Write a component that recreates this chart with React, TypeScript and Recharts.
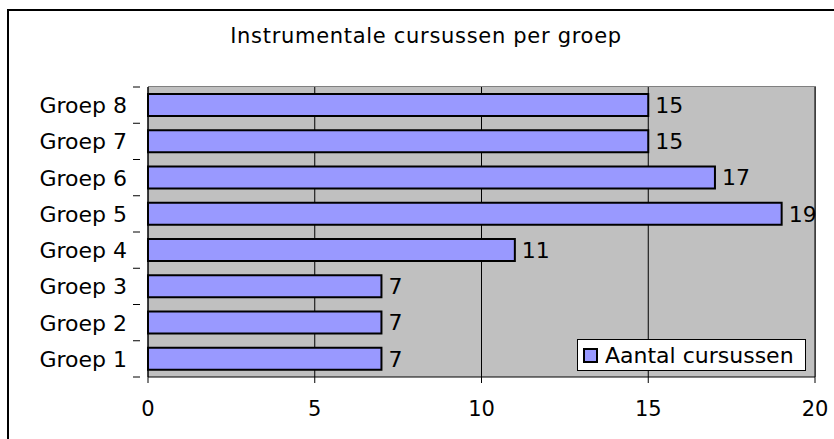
import { Bar, BarChart, CartesianGrid, LabelList, XAxis, YAxis } from 'recharts';

const groups = ['Groep 1', 'Groep 2', 'Groep 3', 'Groep 4', 'Groep 5', 'Groep 6', 'Groep 7', 'Groep 8'];
const courses = [7, 7, 7, 11, 19, 17, 15, 15];
const xTicks = [0, 5, 10, 15, 20];
const seriesName = 'Aantal cursussen';

const data = groups.map((g, i) => ({ group: g, value: courses[i] }));

const FONT = '"DejaVu Sans", Verdana, sans-serif';
const PLOT_TOP = 87;
const PLOT_H = 290;
const X_AXIS_H = 30;
const BAND = PLOT_H / groups.length;

// ticks sit on the band boundaries like the original, not in the middle
function GroupTick(props: any) {
  const { x, y, payload, index } = props;
  return (
    <g>
      <line x1={x - 7} x2={x} y1={y - BAND / 2} y2={y - BAND / 2} stroke="#000" />
      {index === 0 && <line x1={x - 7} x2={x} y1={y + BAND / 2} y2={y + BAND / 2} stroke="#000" />}
      <text x={x - 13} y={y} dy={8} textAnchor="end" fontSize={22} fill="#000" fontFamily={FONT}>
        {payload.value}
      </text>
    </g>
  );
}

export default function App() {
  return (
    <div style={{ position: 'relative', width: 834, height: 439, background: '#fff', overflow: 'hidden' }}>
      <style>{'body{margin:0}'}</style>
      <div
        style={{
          position: 'absolute',
          left: 7,
          top: 9,
          width: 840,
          height: 440,
          border: '2px solid #000',
          boxSizing: 'border-box',
        }}
      />
      <div
        style={{
          position: 'absolute',
          left: 0,
          width: 852,
          top: 24,
          textAlign: 'center',
          fontFamily: FONT,
          fontSize: 21,
          letterSpacing: 0.7,
          color: '#000',
        }}
      >
        Instrumentale cursussen per groep
      </div>
      <div
        style={{
          position: 'absolute',
          left: 148,
          top: PLOT_TOP - 1,
          width: 668,
          height: 1,
          background: '#808080',
        }}
      />
      <div
        style={{
          position: 'absolute',
          left: 815,
          top: PLOT_TOP - 1,
          width: 1,
          height: PLOT_H + 1,
          background: '#808080',
        }}
      />
      <div style={{ position: 'absolute', left: 0, top: 0 }}>
        <BarChart
          width={834}
          height={439}
          data={data}
          layout="vertical"
          margin={{ top: PLOT_TOP, right: 19, bottom: 439 - PLOT_TOP - PLOT_H - X_AXIS_H, left: 0 }}
        >
          <CartesianGrid horizontal={false} stroke="#000" fill="#c0c0c0" />
          <XAxis
            type="number"
            domain={[0, 20]}
            ticks={xTicks}
            interval={0}
            height={X_AXIS_H}
            stroke="#000"
            tick={{ fontSize: 21, fill: '#000', fontFamily: FONT }}
            tickSize={6}
            tickMargin={18}
          />
          <YAxis
            type="category"
            dataKey="group"
            reversed
            width={148}
            stroke="#000"
            tickLine={false}
            tick={<GroupTick />}
          />
          <Bar
            dataKey="value"
            name={seriesName}
            fill="#9999ff"
            stroke="#000"
            strokeWidth={2}
            barSize={22}
            isAnimationActive={false}
          >
            <LabelList dataKey="value" position="right" offset={7} fill="#000" fontSize={22} fontFamily={FONT} />
          </Bar>
        </BarChart>
      </div>
      <div
        style={{
          position: 'absolute',
          left: 577,
          top: 339,
          width: 229,
          height: 32,
          boxSizing: 'border-box',
          border: '1px solid #000',
          background: '#fff',
          display: 'flex',
          alignItems: 'center',
          fontFamily: FONT,
          fontSize: 22,
          paddingLeft: 5,
          whiteSpace: 'nowrap',
        }}
      >
        <span
          style={{
            display: 'inline-block',
            width: 11,
            height: 11,
            background: '#9999ff',
            border: '2px solid #000',
            marginRight: 7,
            flexShrink: 0,
          }}
        />
        {seriesName}
      </div>
    </div>
  );
}
